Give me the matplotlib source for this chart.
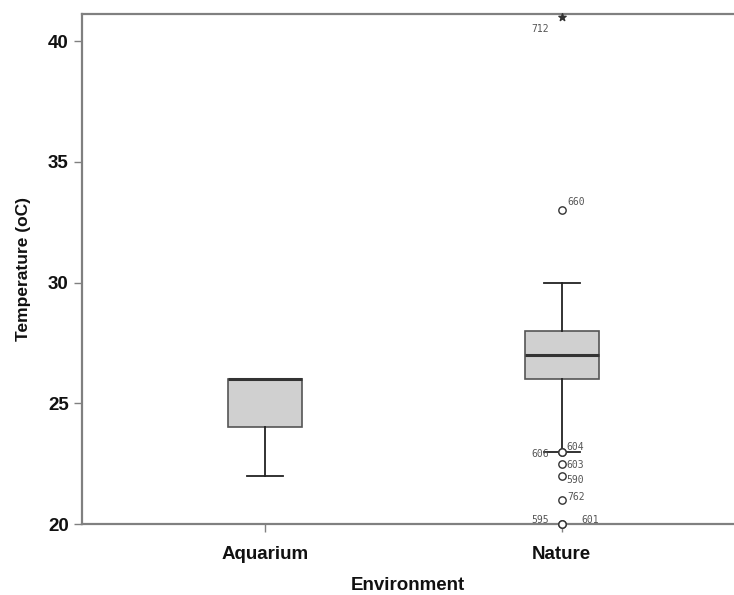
import matplotlib
matplotlib.use("Agg")
from matplotlib import pyplot as plt

plt.rcParams['font.family'] = ['Liberation Sans', 'DejaVu Sans']

# box summaries per environment
groups = ["Aquarium", "Nature"]
q1 = [24, 26]
med = [26, 27]
q3 = [26, 28]
whislo = [22, 23]
whishi = [26, 30]

# outlying cases (Nature only)
out_vals = [33, 23, 23, 22.5, 22, 21, 20, 20]
out_ids = ["660", "604", "606", "603", "590", "762", "595", "601"]
extreme_vals = [41]
extreme_ids = ["712"]

# label offsets in points for each case id
offsets = {"660": (4, 6), "604": (3, 3), "606": (-22, -2), "603": (3, -1),
           "590": (3, -3), "762": (4, 2), "595": (-22, 3), "601": (14, 3),
           "712": (-22, -9)}

fig = plt.figure(figsize=(7.34, 5.95), dpi=100)
ax = fig.add_axes([0.1117, 0.1193, 0.8883, 0.8572])

stats = []
for i in range(len(groups)):
    stats.append(dict(med=med[i], q1=q1[i], q3=q3[i], whislo=whislo[i],
                      whishi=whishi[i], fliers=[], label=groups[i]))

ax.bxp(stats, positions=[1, 2], widths=0.25, patch_artist=True,
       showfliers=False,
       boxprops=dict(facecolor="#d0d0d0", edgecolor="#555555", linewidth=1.2),
       medianprops=dict(color="#333333", linewidth=2.2),
       whiskerprops=dict(color="#222222", linewidth=1.3),
       capprops=dict(color="#222222", linewidth=1.3),
       capwidths=0.12)

ax.scatter([2] * len(out_vals), out_vals, s=28, facecolors="white",
           edgecolors="#333333", linewidths=1.0, zorder=4, clip_on=False)
ax.scatter([2] * len(extreme_vals), extreme_vals, marker="*", s=30,
           color="#333333", zorder=4, clip_on=False)

for v, lab in zip(out_vals + extreme_vals, out_ids + extreme_ids):
    dx, dy = offsets[lab]
    ax.annotate(lab, (2, v), xytext=(dx, dy), textcoords="offset points",
                fontsize=7, family="DejaVu Sans Mono", color="#555555",
                va="center", ha="left")

ax.set_xlim(0.384, 2.58)
ax.set_ylim(20, 41.12)
ax.set_yticks([20, 25, 30, 35, 40])
ax.set_xticks([1, 2])
ax.set_xticklabels(groups)

for s in ["left", "bottom", "top"]:
    ax.spines[s].set_color("#808080")
    ax.spines[s].set_linewidth(1.6)
ax.spines["right"].set_visible(False)

ax.tick_params(axis="both", colors="#808080", length=6, width=1.0)
ax.tick_params(axis="x", pad=10)
for t in ax.get_xticklabels() + ax.get_yticklabels():
    t.set_color("#111111")
    t.set_fontsize(13.5)
    t.set_fontweight("bold")

ax.set_xlabel("Environment", fontsize=13.5, fontweight="bold", color="#111111",
              labelpad=10)
ax.set_ylabel("Temperature (oC)", fontsize=12.5, fontweight="bold",
              color="#111111", labelpad=12)

fig.savefig("out.png", dpi=100)
